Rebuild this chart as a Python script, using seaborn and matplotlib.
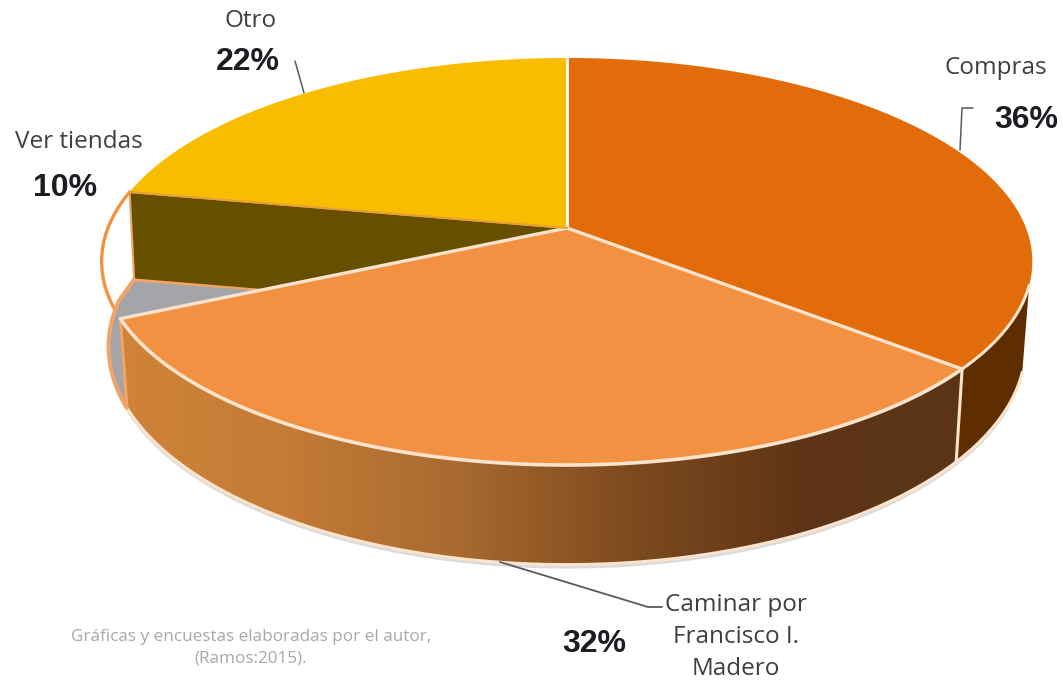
import numpy as np
import seaborn as sns
import matplotlib
matplotlib.use("Agg")
import matplotlib.pyplot as plt
from matplotlib.colors import LinearSegmentedColormap
from matplotlib.patches import Polygon

# datos
categorias = ["Compras", "Caminar por\nFrancisco I.\nMadero", "Ver tiendas", "Otro"]
valores = [36, 32, 10, 22]
colores = ["#E36C0A", "#F29141", "#FFFFFF", "#F9BD00"]
color_pared = "#665000"
color_piso = "#A3A5A8"
color_lado = "#5E2D00"
color_borde = "#FBE3CC"
color_aro = "#F0A468"
gradiente = ["#D08439", "#C47B35", "#A86A30", "#7D4A1E", "#5E3416", "#5B3416"]
nota = "Gráficas y encuestas elaboradas por el autor,\n(Ramos:2015)."

# proyeccion del disco
cx, cy = 567, 228
R, Q, k = 459, 198, 0.1646
D, esc_x, esc_y = 83, 0.985, 1.07


def arriba(a):
    a = np.radians(a)
    u, v = np.sin(a), np.cos(a)
    w = 1 + k * v
    return cx + R * u / w, cy - Q * v / w


def abajo(a):
    x, y = arriba(a)
    return cx + (x - cx) * esc_x, cy + D + (y - cy) * esc_y


def arco(f, a, b):
    t = np.linspace(a, b, 120)
    x, y = f(t)
    return np.column_stack([x, y])


cortes = np.cumsum([0] + valores) * 3.6
a1, a2, a3 = cortes[1], cortes[2], cortes[3]
inicio_lado = 106
centro = np.array([[cx, cy]])
centro_b = np.array([[cx, cy + D]])

sns.set_theme(style="white")
fig, ax = plt.subplots(figsize=(10.63, 6.83), dpi=100)
fig.subplots_adjust(0, 0, 1, 1)
ax.axis("off")

# sombra
sombra = arco(abajo, inicio_lado + 8, a2 + 8) + np.array([0, 4])
ax.add_patch(Polygon(sombra, closed=True, fc="#999999", ec="none", alpha=0.35, zorder=1))

# rebanada vacia (Ver tiendas)
ax.add_patch(Polygon(np.vstack([centro, arco(arriba, a2, a3)]), closed=True,
                     fc=colores[2], ec=colores[1], lw=2.4, zorder=2))
esquina = np.array(abajo(a3)) + np.array([-2, 7])
piso = np.vstack([centro_b, esquina, arco(abajo, a2, a3 - 8)[::-1]])
ax.add_patch(Polygon(piso, closed=True, fc=color_piso, ec=color_aro, lw=3, zorder=3))
pared = np.array([[cx, cy], arriba(a3), esquina, [cx, cy + D + 4]])
ax.add_patch(Polygon(pared, closed=True, fc=color_pared, ec=color_aro, lw=1.5, zorder=4))

# lado derecho
lado = np.vstack([arco(arriba, inicio_lado, a1), arco(abajo, inicio_lado, a1)[::-1]])
ax.add_patch(Polygon(lado, closed=True, fc=color_lado, ec="none", zorder=5))
x, y = arco(abajo, inicio_lado, a1).T
ax.plot(x, y, color=color_borde, lw=2.2, zorder=6)

# lado frontal con degradado
frente = np.vstack([arco(arriba, a1, a2), arco(abajo, a1, a2)[::-1]])
parche = Polygon(frente, closed=True, fc="none", ec="none", zorder=5)
ax.add_patch(parche)
cmap = LinearSegmentedColormap.from_list("lado", gradiente)
im = ax.imshow(np.linspace(0, 1, 256)[::-1].reshape(1, -1), cmap=cmap, aspect="auto",
               extent=[980, 110, 600, 300], zorder=5)
im.set_clip_path(parche)
x, y = arco(abajo, a1, a2).T
ax.plot(x, y, color=color_borde, lw=2.2, zorder=6)
for a in [a1, a2]:
    p, q = arriba(a), abajo(a)
    ax.plot([p[0], q[0]], [p[1], q[1]], color=color_borde if a == a1 else color_aro, lw=2.2, zorder=6)

# caras superiores
for i, (a, b) in enumerate(zip(cortes[:-1], cortes[1:])):
    if i == 2:
        continue
    ax.add_patch(Polygon(np.vstack([centro, arco(arriba, a, b)]), closed=True,
                         fc=colores[i], ec="none", zorder=7))
x, y = arco(arriba, a1, a2).T
ax.plot(x, y, color=color_borde, lw=2.6, zorder=8)
x, y = arco(arriba, inicio_lado, a1).T
ax.plot(x, y, color=color_borde, lw=2.2, zorder=8)
for a, c, lw in [(0, "#FFFFFF", 2), (a1, color_borde, 2.4), (a2, color_borde, 2.4)]:
    p = arriba(a)
    ax.plot([cx, p[0]], [cy, p[1]], color=c, lw=lw, zorder=9)
p = arriba(a3)
ax.plot([cx, p[0]], [cy, p[1]], color="#E8A030", lw=1.5, zorder=9)

# lineas guia
gris = "#555B60"
ax.plot([973, 962, 960], [108, 108, 150], color=gris, lw=1.1, zorder=3)
ax.plot([295, 304], [61, 93], color=gris, lw=1.1, zorder=3)
ax.plot([500, 648, 662], [562, 607, 607], color=gris, lw=1.3, zorder=8)

# textos
pos_cat = [(996, 68), (736, 637), (79, 142), (251, 21)]
pos_pct = [(1026, 120), (594, 644), (65, 188), (248, 62)]
for c, v, pc, pp in zip(categorias, valores, pos_cat, pos_pct):
    ax.text(pc[0], pc[1], c, family="Open Sans", fontsize=17.5, color="#3F3F3F",
            ha="center", va="center", linespacing=1.42, zorder=10)
    ax.text(pp[0], pp[1], f"{v}%", family="Liberation Sans", fontweight="bold",
            fontsize=23, color="#1C1C22", ha="center", va="center", zorder=10)
ax.text(251, 648, nota, family="Open Sans", fontsize=12.3, color="#A8A8A8",
        ha="center", va="center", linespacing=1.45, zorder=10)

ax.set_xlim(0, 1063)
ax.set_ylim(683, 0)
fig.savefig("out.png", dpi=100, facecolor="white")
